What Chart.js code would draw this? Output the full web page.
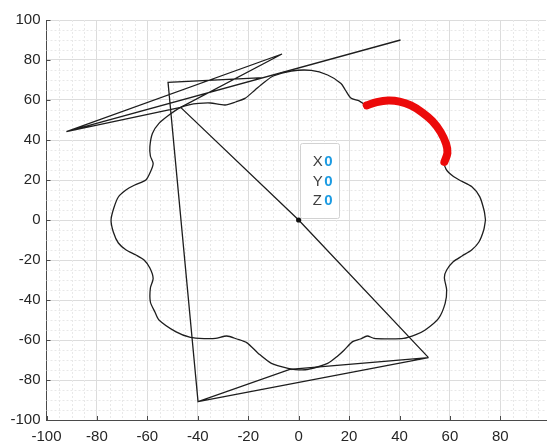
<!DOCTYPE html>
<html>
<head>
<meta charset="utf-8">
<script src="https://cdn.jsdelivr.net/npm/chart.js@4.4.1/dist/chart.umd.min.js"></script>
<style>
  html, body { margin: 0; padding: 0; background: #ffffff; }
  #plot { display: block; }
</style>
</head>
<body>
<canvas id="plot" width="550" height="445"></canvas>
<script>
// Closed eight-lobed outline, traced counter-clockwise starting at the right lobe
const flowerX = [
  74.1, 73.6, 71.8, 68.6, 64.5, 61.4, 58.5, 57.8,
  59.0, 58.5, 56.3, 53.0, 49.0, 44.5, 40.0, 35.5, 31.0, 27.0,
  24.0, 20.7, 18.5, 16.8, 11.5, 5.0, -2.9, -10.1, -14.0, -17.3, -21.3, -25.0, -29.2,
  -35.0, -39.6, -43.5, -46.8, -51.4, -55.4, -58.0, -59.0, -58.8, -57.7,
  -58.8, -60.6, -65.0, -68.5, -71.5, -73.3, -74.4, -73.5, -71.5, -68.4, -64.5, -61.3, -59.0, -57.7,
  -58.8, -58.8, -57.0, -55.4, -48.8, -42.9, -37.0, -33.0, -28.5,
  -24.5, -20.6, -16.0, -10.8, -4.2, 0.0, 3.7, 11.5, 15.5, 18.1, 21.4, 24.5, 27.2,
  29.9, 34.5, 41.6, 46.5, 50.2, 55.5, 58.1, 58.7, 57.8,
  58.7, 61.4, 64.8, 68.6, 71.5, 73.4, 74.1
];
const flowerY = [
  0.0, 4.5, 11.7, 16.7, 19.5, 21.7, 25.3, 29.0,
  33.5, 38.0, 44.0, 49.5, 53.8, 57.3, 59.2, 59.7, 58.9, 57.3,
  59.6, 61.0, 65.0, 68.3, 72.5, 74.8, 74.5, 72.0, 68.5, 65.0, 60.8, 59.0, 57.5,
  58.5, 58.3, 57.6, 56.3, 52.5, 48.3, 43.3, 36.7, 32.0, 28.3,
  24.0, 20.0, 17.5, 15.0, 11.5, 6.0, 0.0, -6.0, -11.5, -15.0, -17.5, -20.0, -24.0, -29.2,
  -34.0, -41.0, -46.0, -50.0, -55.8, -58.7, -59.3, -59.2, -58.0,
  -59.5, -61.3, -66.7, -71.7, -74.2, -74.9, -74.7, -71.7, -68.0, -65.0, -60.8, -59.5, -58.0,
  -59.2, -59.4, -59.2, -57.3, -55.0, -49.2, -41.7, -35.0, -28.7,
  -25.0, -20.8, -18.0, -15.0, -11.0, -5.0, 0.0
];

// Highlighted stretch of the outline (upper-right lobe)
const arcX = [27.0, 31.0, 35.5, 40.0, 44.5, 49.0, 53.0, 56.3, 58.5, 59.0, 57.8];
const arcY = [57.3, 58.9, 59.7, 59.2, 57.3, 53.8, 49.5, 44.0, 38.0, 33.5, 29.0];

// Straight-segment path between the marked vertices
const pathX = [51.5, 0.0, -46.8, -92.1, -6.6, -46.8, -92.1, 40.4, -14.0, -51.8, -39.9, -3.5, 51.5, -39.9];
const pathY = [-68.8, 0.0, 56.3, 44.2, 83.0, 56.3, 44.2, 90.0, 71.2, 68.8, -90.8, -74.7, -68.8, -90.8];

// Data tip
const tipX = [0];
const tipY = [0];
const tipZ = [0];

// Axis ticks
const xTicks = [-100, -80, -60, -40, -20, 0, 20, 40, 60, 80];
const yTicks = [-100, -80, -60, -40, -20, 0, 20, 40, 60, 80, 100];
const xRange = [-100, 98.1];
const yRange = [-100, 100];
const minorStep = 5;

const toPoints = (xs, ys) => xs.map((v, i) => ({ x: v, y: ys[i] }));

const FONT = '"Liberation Sans", Arial, Helvetica, sans-serif';

// Minor grid + inward tick marks
const axesDecor = {
  id: 'axesDecor',
  beforeDatasetsDraw(chart) {
    const { ctx, chartArea: a, scales: { x, y } } = chart;
    ctx.save();
    ctx.lineWidth = 1;
    ctx.strokeStyle = '#e8e8e8';
    ctx.setLineDash([2, 2]);
    for (let v = xRange[0]; v <= xRange[1]; v += minorStep) {
      if (v % 20 === 0) continue;
      const p = Math.round(x.getPixelForValue(v)) + 0.5;
      ctx.beginPath(); ctx.moveTo(p, a.top); ctx.lineTo(p, a.bottom); ctx.stroke();
    }
    for (let v = yRange[0]; v <= yRange[1]; v += minorStep) {
      if (v % 20 === 0) continue;
      const p = Math.round(y.getPixelForValue(v)) + 0.5;
      ctx.beginPath(); ctx.moveTo(a.left, p); ctx.lineTo(a.right, p); ctx.stroke();
    }
    ctx.setLineDash([]);
    ctx.strokeStyle = '#4a4a4a';
    xTicks.forEach(v => {
      const p = Math.round(x.getPixelForValue(v)) + 0.5;
      ctx.beginPath(); ctx.moveTo(p, a.bottom); ctx.lineTo(p, a.bottom - 4); ctx.stroke();
    });
    yTicks.forEach(v => {
      const p = Math.round(y.getPixelForValue(v)) + 0.5;
      ctx.beginPath(); ctx.moveTo(a.left, p); ctx.lineTo(a.left + 4, p); ctx.stroke();
    });
    ctx.restore();
  }
};

// Data tip box anchored at the tip point
const dataTip = {
  id: 'dataTip',
  afterDatasetsDraw(chart) {
    const { ctx, scales: { x, y } } = chart;
    const px = x.getPixelForValue(tipX[0]);
    const py = y.getPixelForValue(tipY[0]);
    const left = Math.round(px + 1) + 0.5;
    const top = Math.round(py - 77) + 0.5;
    const w = 39, h = 75;
    ctx.save();
    ctx.fillStyle = 'rgba(255,255,255,0.92)';
    ctx.strokeStyle = '#d2d2d2';
    ctx.lineWidth = 1;
    ctx.beginPath();
    if (ctx.roundRect) ctx.roundRect(left, top, w, h, 2); else ctx.rect(left, top, w, h);
    ctx.fill(); ctx.stroke();
    ctx.textBaseline = 'middle';
    ctx.textAlign = 'left';
    const rows = [['X', tipX[0]], ['Y', tipY[0]], ['Z', tipZ[0]]];
    rows.forEach((r, i) => {
      const ty = py - 58 + i * 19.6;
      ctx.font = '15px ' + FONT;
      ctx.fillStyle = '#404040';
      ctx.fillText(r[0], px + 14, ty);
      ctx.font = 'bold 15px ' + FONT;
      ctx.fillStyle = '#1c9be2';
      ctx.fillText(String(r[1]), px + 25.5, ty);
    });
    ctx.restore();
  }
};

new Chart(document.getElementById('plot'), {
  type: 'scatter',
  data: {
    datasets: [
      {
        label: 'tip',
        data: toPoints(tipX, tipY),
        pointRadius: 2.6,
        pointBackgroundColor: '#111111',
        pointBorderWidth: 0,
        showLine: false,
        order: 0
      },
      {
        label: 'arc',
        data: toPoints(arcX, arcY),
        showLine: true,
        borderColor: '#ec0a0a',
        borderWidth: 8,
        borderCapStyle: 'round',
        borderJoinStyle: 'round',
        pointRadius: 0,
        tension: 0.3,
        order: 1
      },
      {
        label: 'path',
        data: toPoints(pathX, pathY),
        showLine: true,
        borderColor: '#1e1e1e',
        borderWidth: 1.3,
        pointRadius: 0,
        tension: 0,
        order: 2
      },
      {
        label: 'outline',
        data: toPoints(flowerX, flowerY),
        showLine: true,
        borderColor: '#1e1e1e',
        borderWidth: 1.3,
        pointRadius: 0,
        tension: 0.25,
        order: 3
      }
    ]
  },
  options: {
    responsive: false,
    animation: false,
    devicePixelRatio: 1,
    layout: { padding: { top: 20, right: 0, bottom: 0, left: 0 } },
    plugins: { legend: { display: false }, tooltip: { enabled: false } },
    scales: {
      x: {
        type: 'linear',
        min: xRange[0],
        max: xRange[1],
        afterBuildTicks: s => { s.ticks = xTicks.map(v => ({ value: v })); },
        afterFit: s => { s.height = 25; },
        ticks: {
          font: { family: FONT, size: 15 },
          color: '#262626',
          padding: 8,
          maxRotation: 0
        },
        grid: { color: '#dcdcdc', lineWidth: 1, drawTicks: false },
        border: { display: true, color: '#4a4a4a', width: 1 }
      },
      y: {
        type: 'linear',
        min: yRange[0],
        max: yRange[1],
        afterBuildTicks: s => { s.ticks = yTicks.map(v => ({ value: v })); },
        afterFit: s => { s.width = 46.5; },
        ticks: {
          font: { family: FONT, size: 15 },
          color: '#262626',
          padding: 6
        },
        grid: { color: '#dcdcdc', lineWidth: 1, drawTicks: false },
        border: { display: true, color: '#4a4a4a', width: 1 }
      }
    }
  },
  plugins: [axesDecor, dataTip]
});
</script>
</body>
</html>
